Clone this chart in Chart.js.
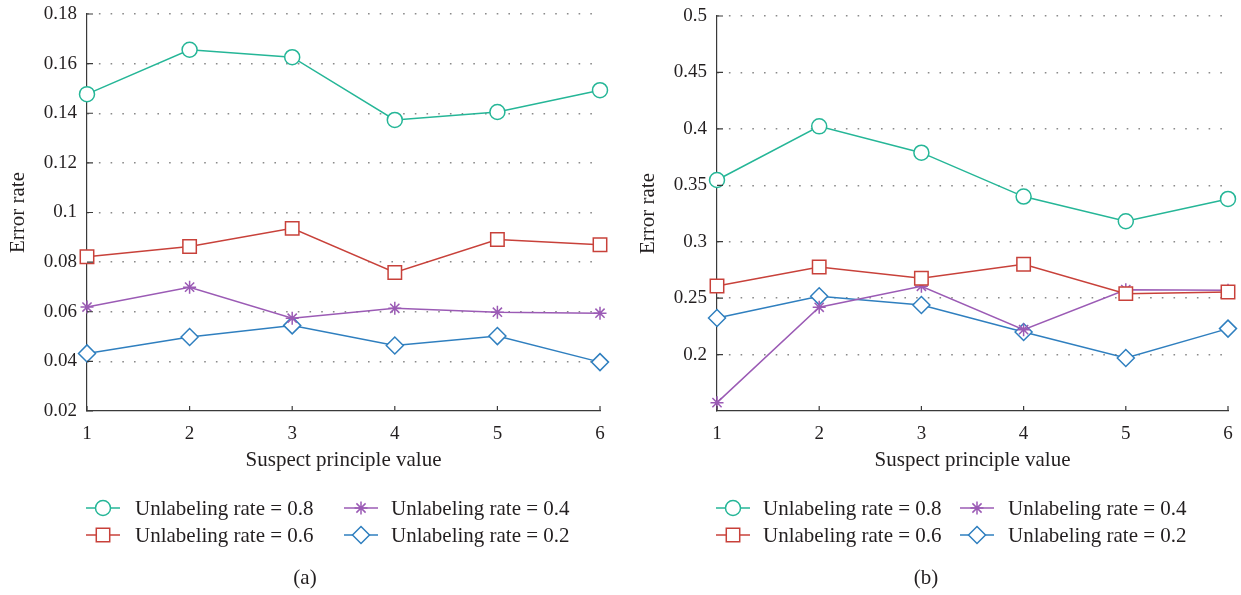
<!DOCTYPE html>
<html>
<head>
<meta charset="utf-8">
<script src="https://cdn.jsdelivr.net/npm/chart.js@4/dist/chart.umd.min.js"></script>
<style>
  html, body { margin: 0; padding: 0; background: #ffffff; }
  #wrap { position: relative; width: 1241px; height: 595px; overflow: hidden; }
  .panel { position: absolute; top: 0; height: 595px; }
  #panelA { left: 0; width: 620px; }
  #panelB { left: 620px; width: 621px; }
</style>
</head>
<body>
<div id="wrap">
  <div class="panel" id="panelA"><canvas id="chartA"></canvas></div>
  <div class="panel" id="panelB"><canvas id="chartB"></canvas></div>
</div>
<script>
// Suspect principle values on the x axis
const categories = ['1', '2', '3', '4', '5', '6'];
const seriesNames = [
  'Unlabeling rate = 0.8',
  'Unlabeling rate = 0.6',
  'Unlabeling rate = 0.4',
  'Unlabeling rate = 0.2'
];

// Panel (a): error rates
const panelA_rate08 = [0.1477, 0.1656, 0.1626, 0.1373, 0.1405, 0.1493];
const panelA_rate06 = [0.0822, 0.0863, 0.0936, 0.0758, 0.0891, 0.0870];
const panelA_rate04 = [0.0619, 0.0699, 0.0574, 0.0614, 0.0598, 0.0594];
const panelA_rate02 = [0.0432, 0.0498, 0.0545, 0.0464, 0.0502, 0.0397];
const panelA_yTicks = ['0.02', '0.04', '0.06', '0.08', '0.1', '0.12', '0.14', '0.16', '0.18'];

// Panel (b): error rates
const panelB_rate08 = [0.3547, 0.4022, 0.3789, 0.3400, 0.3181, 0.3379];
const panelB_rate06 = [0.2608, 0.2776, 0.2676, 0.2800, 0.2540, 0.2555];
const panelB_rate04 = [0.1574, 0.2419, 0.2605, 0.2221, 0.2575, 0.2569];
const panelB_rate02 = [0.2324, 0.2516, 0.2439, 0.2200, 0.1970, 0.2230];
const panelB_yTicks = ['0.2', '0.25', '0.3', '0.35', '0.4', '0.45', '0.5'];
const panelB_yMin = 0.15;

const SERIF = '"Liberation Serif", "Times New Roman", serif';
const TEXT = '#231f20';
const AXIS = '#3a3a3a';

const seriesStyles = [
  { color: '#25b697', pointStyle: 'circle',  radius: 7.5 },
  { color: '#c8413a', pointStyle: 'rect',    radius: 9.5 },
  { color: '#9b5bb5', pointStyle: 'star',    radius: 6.5 },
  { color: '#2f7fbf', pointStyle: 'rectRot', radius: 8.5 }
];

function makeDatasets(valueLists) {
  return valueLists.map((values, i) => ({
    label: seriesNames[i],
    data: values,
    borderColor: seriesStyles[i].color,
    backgroundColor: '#ffffff',
    borderWidth: 1.5,
    pointStyle: seriesStyles[i].pointStyle,
    pointRadius: seriesStyles[i].radius,
    pointHoverRadius: seriesStyles[i].radius,
    pointBorderWidth: 1.5,
    pointBackgroundColor: '#ffffff',
    pointBorderColor: seriesStyles[i].color,
    tension: 0,
    clip: false
  }));
}

// Marker shapes used in the legend
function drawMarker(ctx, style, x, y, r, color) {
  ctx.save();
  ctx.strokeStyle = color;
  ctx.fillStyle = '#ffffff';
  ctx.lineWidth = 1.5;
  ctx.beginPath();
  if (style === 'circle') {
    ctx.arc(x, y, r, 0, Math.PI * 2);
    ctx.fill(); ctx.stroke();
  } else if (style === 'rect') {
    const s = r * Math.SQRT1_2;
    ctx.rect(x - s, y - s, 2 * s, 2 * s);
    ctx.fill(); ctx.stroke();
  } else if (style === 'rectRot') {
    ctx.moveTo(x, y - r); ctx.lineTo(x + r, y); ctx.lineTo(x, y + r); ctx.lineTo(x - r, y); ctx.closePath();
    ctx.fill(); ctx.stroke();
  } else if (style === 'star') {
    const d = r * Math.SQRT1_2;
    ctx.moveTo(x, y - r); ctx.lineTo(x, y + r);
    ctx.moveTo(x - r, y); ctx.lineTo(x + r, y);
    ctx.moveTo(x - d, y - d); ctx.lineTo(x + d, y + d);
    ctx.moveTo(x - d, y + d); ctx.lineTo(x + d, y - d);
    ctx.stroke();
  }
  ctx.restore();
}

// Inward tick marks, two-column legend and the panel caption
const panelDecor = {
  id: 'panelDecor',
  afterDraw(chart, args, opts) {
    const { ctx, chartArea, scales } = chart;
    ctx.save();
    ctx.strokeStyle = AXIS;
    ctx.lineWidth = 1.2;
    ctx.beginPath();
    scales.x.ticks.forEach((t, i) => {
      const px = scales.x.getPixelForTick(i);
      ctx.moveTo(px, chartArea.bottom);
      ctx.lineTo(px, chartArea.bottom - 5);
    });
    scales.y.ticks.forEach((t, i) => {
      const py = scales.y.getPixelForTick(i);
      ctx.moveTo(chartArea.left, py);
      ctx.lineTo(chartArea.left + 6, py);
    });
    ctx.stroke();

    // legend: first column 0.8 / 0.6, second column 0.4 / 0.2
    const cols = [0, 0, 1, 1];
    const rows = [0, 1, 0, 1];
    ctx.font = '21px ' + SERIF;
    ctx.textBaseline = 'middle';
    ctx.textAlign = 'left';
    chart.data.datasets.forEach((ds, i) => {
      const cx = opts.symbolX[cols[i]];
      const cy = opts.rowY[rows[i]];
      ctx.strokeStyle = ds.borderColor;
      ctx.lineWidth = 1.5;
      ctx.beginPath();
      ctx.moveTo(cx - 17, cy);
      ctx.lineTo(cx + 17, cy);
      ctx.stroke();
      drawMarker(ctx, ds.pointStyle, cx, cy, ds.pointRadius, ds.borderColor);
      ctx.fillStyle = TEXT;
      ctx.fillText(ds.label, opts.textX[cols[i]], cy + 1);
    });

    ctx.textAlign = 'center';
    ctx.fillStyle = TEXT;
    ctx.fillText(opts.caption, opts.captionX, opts.captionY);
    ctx.restore();
  }
};

function makeChart(canvasId, valueLists, yTicks, yMin, yMax, dims, decor) {
  return new Chart(document.getElementById(canvasId), {
    type: 'line',
    data: { labels: categories, datasets: makeDatasets(valueLists) },
    plugins: [panelDecor],
    options: {
      responsive: true,
      maintainAspectRatio: false,
      animation: false,
      events: [],
      layout: { padding: dims.padding },
      plugins: {
        legend: { display: false },
        tooltip: { enabled: false },
        panelDecor: decor
      },
      scales: {
        x: {
          type: 'category',
          offset: false,
          grid: { display: false, drawTicks: false },
          border: { display: true, color: AXIS, width: 1.2 },
          ticks: { color: TEXT, font: { family: SERIF, size: 19 }, padding: 12, maxRotation: 0, autoSkip: false },
          title: {
            display: true,
            text: 'Suspect principle value',
            color: TEXT,
            font: { family: SERIF, size: 21 },
            padding: { top: 0, bottom: 0 }
          },
          afterFit(s) { s.height = dims.xHeight; s.paddingLeft = 0; s.paddingRight = 0; }
        },
        y: {
          type: 'linear',
          min: yMin,
          max: yMax,
          afterBuildTicks(s) { s.ticks = yTicks.map(v => ({ value: parseFloat(v) })); },
          grid: {
            drawTicks: false,
            color: ctx => (ctx.tick && Math.abs(ctx.tick.value - yMin) < 1e-9) ? 'rgba(0,0,0,0)' : '#8a8a8a',
            lineWidth: 1.5
          },
          border: { display: true, color: AXIS, width: 1.2, dash: [1.6, 10.1] },
          ticks: {
            color: TEXT,
            font: { family: SERIF, size: 19 },
            padding: 10,
            callback: (value, index) => yTicks[index]
          },
          title: {
            display: true,
            text: 'Error rate',
            color: TEXT,
            font: { family: SERIF, size: 21 },
            padding: { top: dims.yTitlePad, bottom: 0 }
          },
          afterFit(s) { s.width = dims.yWidth; s.paddingTop = 0; s.paddingBottom = 0; }
        }
      }
    }
  });
}

makeChart('chartA',
  [panelA_rate08, panelA_rate06, panelA_rate04, panelA_rate02],
  panelA_yTicks, 0.02, 0.18,
  { padding: { left: 0, top: 14, right: 20, bottom: 122 }, xHeight: 62, yWidth: 87, yTitlePad: 6 },
  { symbolX: [103, 361], textX: [135, 391], rowY: [508, 535], caption: '(a)', captionX: 305, captionY: 578 }
);

makeChart('chartB',
  [panelB_rate08, panelB_rate06, panelB_rate04, panelB_rate02],
  panelB_yTicks, panelB_yMin, 0.5,
  { padding: { left: 0, top: 16, right: 13, bottom: 122 }, xHeight: 62, yWidth: 97, yTitlePad: 16 },
  { symbolX: [113, 357], textX: [143, 388], rowY: [508, 535], caption: '(b)', captionX: 306, captionY: 578 }
);
</script>
</body>
</html>
